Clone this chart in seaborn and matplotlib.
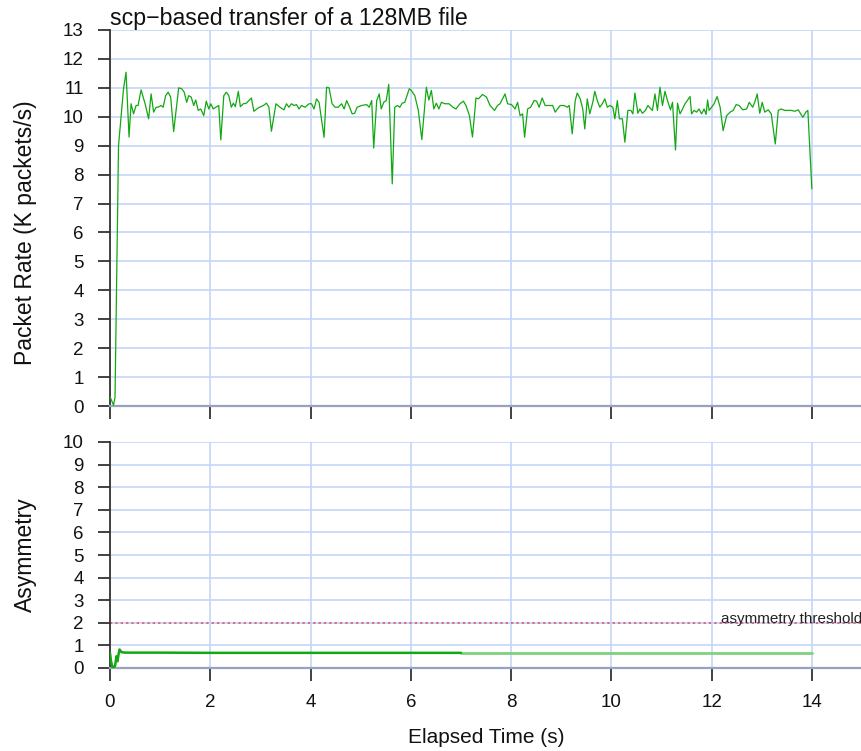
import matplotlib
matplotlib.use("Agg")
import matplotlib.pyplot as plt
import seaborn as sns
import pandas as pd

# ---------------- data ----------------
rate_t = [0, 0.07, 0.1, 0.17, 0.27, 0.32, 0.38, 0.42, 0.47, 0.52, 0.56, 0.62, 0.70, 0.77, 0.82,
          0.87, 0.92, 0.96, 1.02, 1.06, 1.11, 1.16, 1.21, 1.27, 1.37, 1.43, 1.48, 1.53, 1.57, 1.62,
          1.67, 1.71, 1.76, 1.81, 1.87, 1.92, 1.97, 2.01, 2.06, 2.11, 2.17, 2.21, 2.27, 2.32, 2.37,
          2.42, 2.46, 2.50, 2.56, 2.60, 2.66, 2.72, 2.82, 2.87, 2.96, 3.06, 3.12, 3.17, 3.22, 3.31,
          3.39, 3.47, 3.52, 3.57, 3.62, 3.67, 3.72, 3.77, 3.82, 3.89, 3.97, 4.02, 4.07, 4.12, 4.17,
          4.27, 4.32, 4.37, 4.43, 4.49, 4.55, 4.62, 4.67, 4.72, 4.78, 4.83, 4.88, 4.93, 5.02, 5.12,
          5.17, 5.22, 5.26, 5.32, 5.37, 5.41, 5.46, 5.51, 5.56, 5.63, 5.68, 5.73, 5.78, 5.83, 5.88,
          5.97, 6.01, 6.08, 6.15, 6.22, 6.27, 6.31, 6.36, 6.41, 6.46, 6.51, 6.56, 6.61, 6.68, 6.76,
          6.84, 6.90, 6.98, 7.05, 7.10, 7.17, 7.23, 7.30, 7.35, 7.43, 7.51, 7.58, 7.67, 7.73, 7.78,
          7.88, 7.93, 8.01, 8.08, 8.13, 8.18, 8.23, 8.27, 8.33, 8.39, 8.46, 8.51, 8.56, 8.62, 8.68,
          8.78, 8.83, 8.88, 8.98, 9.06, 9.12, 9.16, 9.22, 9.28, 9.32, 9.38, 9.43, 9.47, 9.52, 9.57,
          9.63, 9.67, 9.72, 9.77, 9.82, 9.87, 9.92, 9.97, 10.03, 10.07, 10.12, 10.16, 10.22, 10.27,
          10.33, 10.39, 10.43, 10.47, 10.53, 10.57, 10.62, 10.68, 10.73, 10.79, 10.82, 10.87, 10.92,
          10.97, 11.02, 11.07, 11.12, 11.18, 11.22, 11.28, 11.32, 11.37, 11.42, 11.47, 11.57, 11.60,
          11.65, 11.70, 11.75, 11.80, 11.85, 11.89, 11.92, 11.95, 12.00, 12.05, 12.11, 12.17, 12.23,
          12.30, 12.37, 12.43, 12.49, 12.55, 12.62, 12.70, 12.75, 12.82, 12.86, 12.91, 12.96, 13.01,
          13.06, 13.13, 13.19, 13.27, 13.33, 13.39, 13.46, 13.53, 13.59, 13.66, 13.73, 13.77, 13.82,
          13.88, 13.92, 14.0]
rate_k = [0.32, 0.03, 0.30, 9.0, 10.97, 11.54, 9.3, 10.45, 10.10, 10.39, 10.39, 10.93, 10.45, 9.93, 10.79,
          10.16, 10.33, 10.33, 10.39, 10.33, 10.73, 10.85, 10.68, 9.49, 11.0, 10.97, 10.85, 10.50, 10.73, 10.68,
          10.39, 10.58, 10.22, 10.27, 10.04, 10.54, 10.27, 10.45, 10.27, 10.33, 10.39, 9.20, 10.73, 10.85, 10.73,
          10.33, 10.47, 10.35, 10.88, 10.35, 10.45, 10.47, 10.65, 10.19, 10.31, 10.39, 10.47, 10.33, 9.50, 10.45,
          10.33, 10.24, 10.45, 10.33, 10.45, 10.39, 10.42, 10.27, 10.39, 10.33, 10.45, 10.45, 10.27, 10.62, 10.50,
          9.29, 11.02, 11.0, 10.45, 10.33, 10.33, 10.45, 10.27, 10.56, 10.33, 10.10, 10.12, 10.33, 10.39, 10.42,
          10.33, 10.56, 8.92, 10.56, 10.79, 10.27, 10.50, 10.56, 11.12, 7.68, 10.33, 10.39, 10.33, 10.47, 10.50,
          10.97, 10.91, 10.73, 10.22, 9.21, 10.22, 11.02, 10.58, 10.91, 10.27, 10.47, 10.27, 10.50, 10.45, 10.45,
          10.33, 10.27, 10.45, 10.54, 10.39, 10.04, 9.30, 10.65, 10.62, 10.77, 10.68, 10.39, 10.22, 10.39, 10.45,
          10.79, 10.45, 10.42, 10.27, 10.50, 10.04, 10.10, 9.29, 10.27, 10.33, 10.56, 10.54, 10.33, 10.65, 10.39,
          10.39, 10.39, 10.16, 10.39, 10.39, 10.33, 10.39, 9.41, 10.56, 10.82, 10.62, 10.27, 9.58, 10.62, 10.10,
          10.50, 10.88, 10.56, 10.33, 10.45, 10.62, 10.33, 10.39, 10.33, 9.93, 10.56, 9.93, 9.93, 9.12,
          10.22, 10.22, 10.10, 10.82, 10.12, 10.27, 10.12, 10.22, 10.39, 10.27, 10.22, 10.79, 10.22,
          11.02, 10.39, 10.88, 10.56, 10.24, 10.50, 8.85, 10.47, 10.10, 10.27, 10.45, 10.70, 10.10,
          10.22, 10.16, 10.27, 10.10, 10.27, 10.08, 10.58, 10.22, 10.33, 10.45, 10.70, 10.33, 9.52,
          10.04, 10.16, 10.22, 10.42, 10.39, 10.24, 10.27, 10.50, 10.33, 10.50, 10.79, 10.12, 10.50,
          10.16, 10.24, 10.10, 9.06, 10.22, 10.27, 10.22, 10.22, 10.22, 10.19, 10.24, 10.12, 9.98,
          10.16, 10.22, 7.51]

# asymmetry: dense (dark) part and sparse (light) part
asym_dense_t = [0, 0.02, 0.05, 0.08, 0.10, 0.13, 0.15, 0.17, 0.19, 0.23, 0.3, 1.0, 2.0, 3.0, 4.0, 5.0, 6.0, 7.0]
asym_dense_v = [0.67, 0.30, 0.02, 0.05, 0.08, 0.52, 0.30, 0.60, 0.82, 0.70, 0.68, 0.68, 0.67, 0.67, 0.67, 0.67, 0.67, 0.67]
asym_light_t = [7.0, 8.0, 9.0, 10.0, 11.0, 12.0, 13.0, 14.0]
asym_light_v = [0.67, 0.67, 0.67, 0.67, 0.67, 0.67, 0.67, 0.67]

threshold = 2.0
threshold_label = "asymmetry threshold"
title = "scp\u2212based transfer of a 128MB file"
rate_ylabel = "Packet Rate (K packets/s)"
asym_ylabel = "Asymmetry"
xlabel = "Elapsed Time (s)"
x_ticks = [0, 2, 4, 6, 8, 10, 12, 14]
rate_yticks = list(range(0, 14))
asym_yticks = list(range(0, 11))

# ---------------- style ----------------
sns.set_theme(style="white")
plt.rcParams['font.family'] = ['Liberation Sans', 'DejaVu Sans']

GRID = '#c4d6f6'
GREEN = '#12a812'
LIGHTGREEN = '#7ed27e'
AXIS = '#98a2c0'

W, H = 862, 751
fig = plt.figure(figsize=(W / 100, H / 100), dpi=100)
left = 110 / W
width = 752 / W
ax1 = fig.add_axes([left, 1 - 406 / H, width, 376 / H])
ax2 = fig.add_axes([left, 1 - 668 / H, width, 226 / H])

df_rate = pd.DataFrame({'t': rate_t, 'k': rate_k})
df_ad = pd.DataFrame({'t': asym_dense_t, 'v': asym_dense_v})
df_al = pd.DataFrame({'t': asym_light_t, 'v': asym_light_v})

sns.lineplot(data=df_rate, x='t', y='k', ax=ax1, color=GREEN, linewidth=0.9, zorder=3)
sns.lineplot(data=df_al, x='t', y='v', ax=ax2, color=LIGHTGREEN, linewidth=2.0, zorder=3)
sns.lineplot(data=df_ad, x='t', y='v', ax=ax2, color=GREEN, linewidth=1.8, zorder=4)
ax2.axhline(threshold, color='#d8506a', linewidth=1.1, linestyle=(0, (1.5, 2)), zorder=2)
ax2.text(15, threshold - 0.03, threshold_label, ha='right', va='baseline', fontsize=11, color='#222222')

for ax, yt, ymax in ((ax1, rate_yticks, 13), (ax2, asym_yticks, 10)):
    ax.set_xlim(0, 15)
    ax.set_ylim(0, ymax)
    ax.set_xticks(x_ticks)
    ax.set_yticks(yt)
    ax.grid(True, color=GRID, linewidth=1.2)
    ax.set_axisbelow(True)
    for s in ('top', 'right'):
        ax.spines[s].set_visible(False)
    ax.spines['left'].set_color('#333333')
    ax.spines['left'].set_linewidth(1.3)
    ax.spines['bottom'].set_color(AXIS)
    ax.spines['bottom'].set_linewidth(1.6)
    ax.tick_params(axis='both', direction='out', length=9, width=1.3, color='#333333',
                   labelsize=13.5, labelcolor='#111111', left=True, bottom=True)
    ax.tick_params(axis='y', pad=10)
    ax.tick_params(axis='x', pad=10)

ax1.tick_params(axis='x', labelbottom=False)
ax1.set_xlabel('')
ax1.set_ylabel(rate_ylabel, fontsize=16.5, color='#111111')
ax2.set_ylabel(asym_ylabel, fontsize=16.5, color='#111111')
ax2.set_xlabel(xlabel, fontsize=15, labelpad=12, color='#111111')
ax1.yaxis.set_label_coords(-73 / 752, 0.46)
ax2.yaxis.set_label_coords(-73 / 752, 0.5)
ax1.set_title(title, loc='left', fontsize=16.7, pad=1, color='#111111')

fig.savefig('out.png', dpi=100)
